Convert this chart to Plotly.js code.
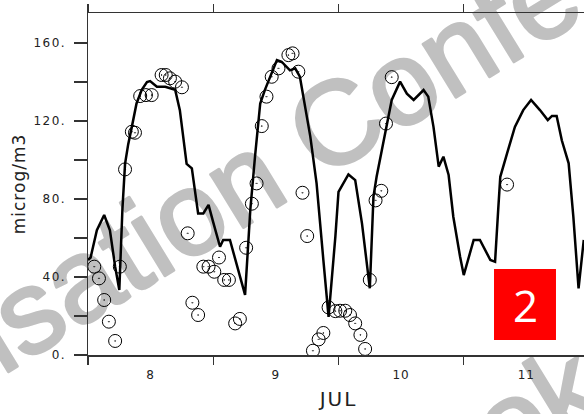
<!DOCTYPE html>
<html>
<head>
<meta charset="utf-8">
<script src="https://cdn.plot.ly/plotly-3.0.1.min.js"></script>
<style>
  html, body { margin: 0; padding: 0; background: #fff; }
  #wrap { position: relative; width: 584px; height: 414px; overflow: hidden; background: #fff; }
  #wm { position: absolute; left: 0; top: 0; z-index: 0; }
  #chart { position: absolute; left: 0; top: 0; width: 590px; height: 414px; z-index: 1; }
  #chart .ytick text { letter-spacing: 1.5px; }
  #chart .xtick text { letter-spacing: 1px; }
  #chart .xtitle { letter-spacing: 2px; }
  #chart .ytitle { letter-spacing: 1px; }
</style>
</head>
<body>
<div id="wrap">
  <svg id="wm" width="584" height="414" xmlns="http://www.w3.org/2000/svg">
    <g font-family="Liberation Sans, Arial, sans-serif" font-size="118" fill="#c0c0c0" stroke="#c0c0c0" stroke-width="3" stroke-linejoin="round">
      <text x="-278" y="547" transform="rotate(-31.5 -278 547)">Organisation Conference</text>
      <text x="382" y="550" transform="rotate(-31.5 382 550)">Book</text>
    </g>
  </svg>
  <div id="chart"></div>
</div>
<script>
// Model line: hours after 8 July 00:00, concentration (microg/m3)
const modelHours = [0, 0.5, 1.7, 3.1, 4.2, 5.2, 6.0, 6.6, 7.1, 7.7, 8.4, 9.3, 10.3, 11.3, 11.9, 13.2, 14.8, 16.7, 17.6, 18.3, 18.9, 19.9, 20.5, 21.1, 22.1, 23.1, 24.0, 25.3, 25.9, 27.2, 30.1, 31.1, 32.0, 33.0, 33.9, 34.9, 36.2, 37.1, 38.7, 39.7, 40.6, 42.6, 43.8, 45.1, 46.1, 47.4, 48.0, 49.9, 51.2, 52.5, 53.7, 54.0, 54.7, 55.3, 56.3, 57.3, 58.2, 59.8, 61.1, 62.4, 64.3, 65.2, 66.2, 67.2, 68.1, 69.1, 70.0, 71.3, 72.0, 73.9, 75.1, 77.1, 78.0, 78.6, 79.0, 80.3, 81.8, 83.4, 84.9, 86.6, 88.1, 88.9, 89.8, 90.8, 92.1, 93.0, 94.0, 95.0];
const modelValues = [48.7, 50, 64, 71.8, 64, 45.3, 33.3, 75, 98, 108, 117, 129, 136, 140, 140.5, 137.6, 137.6, 136, 125.6, 112, 98, 95.7, 83, 72.6, 72.6, 77, 68, 55.5, 59, 59, 30.8, 74.4, 101.7, 129, 136, 142.7, 151.3, 150.4, 146, 147, 142.7, 112, 88, 48.7, 19.6, 60.7, 83.7, 92.6, 89.7, 67.5, 40.2, 34.2, 81.2, 91.4, 105, 118.8, 130.8, 140.2, 134, 130.8, 135.9, 132.5, 117, 96.6, 101.7, 92.3, 70.9, 50.4, 41, 59, 59, 48.7, 47.8, 74.4, 91.4, 103.4, 117, 125.6, 130.8, 125.6, 120.5, 122.6, 122.6, 110, 98.3, 71, 34.2, 59];

// Observations: hours after 8 July 00:00, concentration (microg/m3)
const obsHours = [1.2, 2.1, 3.1, 4.0, 5.2, 6.1, 7.1, 8.4, 9.0, 10.0, 11.1, 12.2, 14.1, 14.9, 15.7, 16.7, 18.0, 19.1, 20.0, 21.1, 22.1, 23.1, 24.2, 25.1, 26.1, 27.0, 28.2, 29.1, 30.3, 31.4, 32.3, 33.3, 34.2, 35.2, 36.5, 38.4, 39.2, 40.3, 41.1, 42.0, 43.1, 44.2, 45.1, 46.1, 47.4, 48.3, 49.3, 50.2, 51.2, 52.2, 53.1, 54.0, 55.1, 56.2, 57.1, 58.2, 80.3];
const obsValues = [45.3, 39.3, 28.2, 17.1, 7.2, 45.3, 95.2, 114.5, 114, 132.8, 133.3, 133.3, 143.6, 143.6, 141.9, 140.2, 137.3, 62.4, 26.8, 20.5, 45.3, 45.3, 42.7, 50, 38.5, 38.5, 16.2, 18.5, 55, 77.6, 88, 117.4, 132.5, 142.7, 147, 153.8, 154.7, 145.3, 83.2, 61, 2.2, 8, 11.3, 24.4, 22.5, 22.7, 22.7, 20.5, 16.2, 10.3, 3.1, 38.5, 79.3, 84.2, 118.7, 142.5, 87.4];

const yTickVals = [0, 20, 40, 60, 80, 100, 120, 140, 160];
const yTickText = ['0.', '', '40.', '', '80.', '', '120.', '', '160.'];

const start = Date.UTC(2001, 6, 8);
const HOUR = 3600000;
const toX = h => start + h * HOUR;

const traces = [
  {
    x: modelHours.map(toX), y: modelValues,
    type: 'scatter', mode: 'lines',
    line: { color: '#000', width: 2.5 },
    hoverinfo: 'skip', showlegend: false
  },
  {
    x: obsHours.map(toX), y: obsValues,
    type: 'scatter', mode: 'markers',
    marker: { symbol: 'circle-open-dot', size: 13, color: '#000', line: { width: 1, color: '#000' } },
    hoverinfo: 'skip', showlegend: false
  }
];

const axisFont = { family: 'DejaVu Sans, sans-serif', size: 12, color: '#222' };

const layout = {
  width: 590, height: 414,
  margin: { l: 88, r: 1, t: 13, b: 59 },
  paper_bgcolor: 'rgba(0,0,0,0)',
  plot_bgcolor: 'rgba(0,0,0,0)',
  showlegend: false,
  xaxis: {
    type: 'date',
    range: [start, start + 96 * HOUR],
    tick0: start, dtick: 86400000,
    tickformat: '%-d', ticklabelmode: 'period',
    ticks: 'outside', ticklen: 8, tickwidth: 1.2, tickcolor: '#333',
    showline: true, linecolor: '#333', linewidth: 1.5, mirror: 'ticks',
    showgrid: false, zeroline: false,
    tickfont: axisFont,
    title: { text: 'JUL', font: { family: 'DejaVu Sans, sans-serif', size: 20, color: '#222' }, standoff: 11 }
  },
  yaxis: {
    range: [0, 175.4],
    tickvals: yTickVals, ticktext: yTickText,
    ticks: 'outside', ticklen: 13, tickwidth: 1.2, tickcolor: '#333',
    ticklabelstandoff: 5,
    showline: true, linecolor: '#333', linewidth: 1.5, mirror: 'ticks',
    showgrid: false, zeroline: false,
    tickfont: axisFont,
    title: { text: 'microg/m3', font: { family: 'DejaVu Sans, sans-serif', size: 17, color: '#222' }, standoff: 9 }
  },
  shapes: [
    { type: 'rect', xref: 'paper', yref: 'paper', x0: 0.8104, x1: 0.9341, y0: 0.0439, y1: 0.2515,
      fillcolor: '#ff0000', line: { width: 0 }, layer: 'above' }
  ],
  annotations: [
    { xref: 'paper', yref: 'paper', x: 0.8723, y: 0.1462, text: '2', showarrow: false,
      font: { family: 'Open Sans, Noto Sans, sans-serif', size: 44, color: '#fff' },
      xanchor: 'center', yanchor: 'middle' }
  ]
};

Plotly.newPlot('chart', traces, layout, { staticPlot: true, displayModeBar: false });
</script>
</body>
</html>
